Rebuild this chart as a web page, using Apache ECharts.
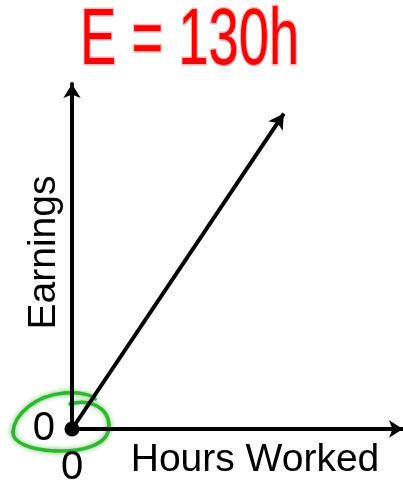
<!DOCTYPE html>
<html>
<head>
<meta charset="utf-8">
<script src="https://cdn.jsdelivr.net/npm/echarts@6/dist/echarts.min.js"></script>
<style>
  html, body { margin: 0; padding: 0; background: #fff; }
  #chart { width: 403px; height: 481px; }
</style>
</head>
<body>
<div id="chart"></div>
<script>
// Earnings as a function of hours worked: E = 130h
const title = 'E = 130h';
const hours = [0, 6.4];
const earnings = [0, 832];
const axisNames = { x: 'Hours Worked', y: 'Earnings' };
const xRange = [0, 10];
const yRange = [0, 910];

const FONT = 'Liberation Sans, Arial, sans-serif';
const chart = echarts.init(document.getElementById('chart'), null, { renderer: 'canvas' });

const points = hours.map((h, i) => [h, earnings[i]]);

const option = {
  animation: false,
  backgroundColor: '#ffffff',
  grid: { left: 72, right: 0, top: 84, bottom: 52, containLabel: false, outerBoundsMode: 'none' },
  xAxis: {
    type: 'value', min: xRange[0], max: xRange[1], interval: xRange[1] - xRange[0],
    name: axisNames.x, nameLocation: 'middle', nameGap: 12, nameMoveOverlap: false,
    nameTextStyle: { fontFamily: FONT, fontSize: 39, color: '#000', padding: [0, 0, 0, 35] },
    axisLine: { show: true, symbol: ['none', 'arrow'], symbolSize: [13, 14],
      lineStyle: { color: '#000', width: 4 } },
    axisTick: { show: false }, splitLine: { show: false },
    axisLabel: { margin: 19, fontFamily: FONT, fontSize: 40, color: '#000',
      formatter: v => (v === 0 ? '0' : '') }
  },
  yAxis: {
    type: 'value', min: yRange[0], max: yRange[1], interval: yRange[1] - yRange[0],
    name: axisNames.y, nameLocation: 'middle', nameGap: 8, nameMoveOverlap: false,
    nameTextStyle: { fontFamily: FONT, fontSize: 39, color: '#000', padding: [0, 0, 0, 8] },
    axisLine: { show: true, symbol: ['none', 'arrow'], symbolSize: [13, 14],
      lineStyle: { color: '#000', width: 4 } },
    axisTick: { show: false }, splitLine: { show: false },
    axisLabel: { margin: 17, fontFamily: FONT, fontSize: 40, color: '#000',
      formatter: v => (v === 0 ? '0' : '') }
  },
  series: [{
    type: 'line',
    clip: false,
    data: points,
    lineStyle: { color: '#000', width: 4 },
    itemStyle: { color: '#000' },
    symbol: 'none',
    z: 5
  }]
};
chart.setOption(option);

// Origin dot, arrowhead along the line, the green loop and the handwritten equation
const p0 = chart.convertToPixel({ gridIndex: 0 }, points[0]);
const p1 = chart.convertToPixel({ gridIndex: 0 }, points[points.length - 1]);
const angle = Math.atan2(p0[1] - p1[1], p1[0] - p0[0]) * 180 / Math.PI; // screen angle of the line

// hand-drawn loop round the origin, as cubic segments relative to the origin
const loopSegments = [
  [[-2, -25], [18, -31], [37, -21], [37, -3]],
  [[37, -3], [37, 17], [8, 23], [-17, 22]],
  [[-17, 22], [-42, 21], [-60, 13], [-59, 3]],
  [[-59, 3], [-58, -14], [-37, -34], [-7, -36]],
  [[-7, -36], [8, -37], [20, -34], [23, -30]]
];
const loopStyle = {
  fill: null,
  stroke: '#2fb52f',
  lineWidth: 3.5,
  lineCap: 'round',
  shadowColor: 'rgba(60,190,60,0.8)',
  shadowBlur: 5
};

chart.setOption({
  series: [{
    data: points.map((p, i) => {
      if (i === 0) return { value: p, symbol: 'circle', symbolSize: 15 };
      if (i === points.length - 1) return { value: p, symbol: 'arrow', symbolSize: [13, 15], symbolRotate: angle - 90 };
      return { value: p, symbol: 'none' };
    })
  }],
  graphic: [
    {
      type: 'group',
      x: p0[0], y: p0[1],
      z: 1,
      children: loopSegments.map(s => ({
        type: 'bezierCurve',
        shape: {
          x1: s[0][0], y1: s[0][1],
          cpx1: s[1][0], cpy1: s[1][1],
          cpx2: s[2][0], cpy2: s[2][1],
          x2: s[3][0], y2: s[3][1]
        },
        style: loopStyle
      }))
    },
    {
      type: 'text',
      x: 80, y: 42,
      scaleX: 0.68,
      z: 10,
      style: {
        text: title,
        fontFamily: FONT,
        fontSize: 80,
        fill: '#ff0000',
        stroke: 'rgba(255,70,70,0.4)',
        lineWidth: 3,
        strokeFirst: true,
        align: 'left',
        verticalAlign: 'middle'
      }
    }
  ]
});
</script>
</body>
</html>
